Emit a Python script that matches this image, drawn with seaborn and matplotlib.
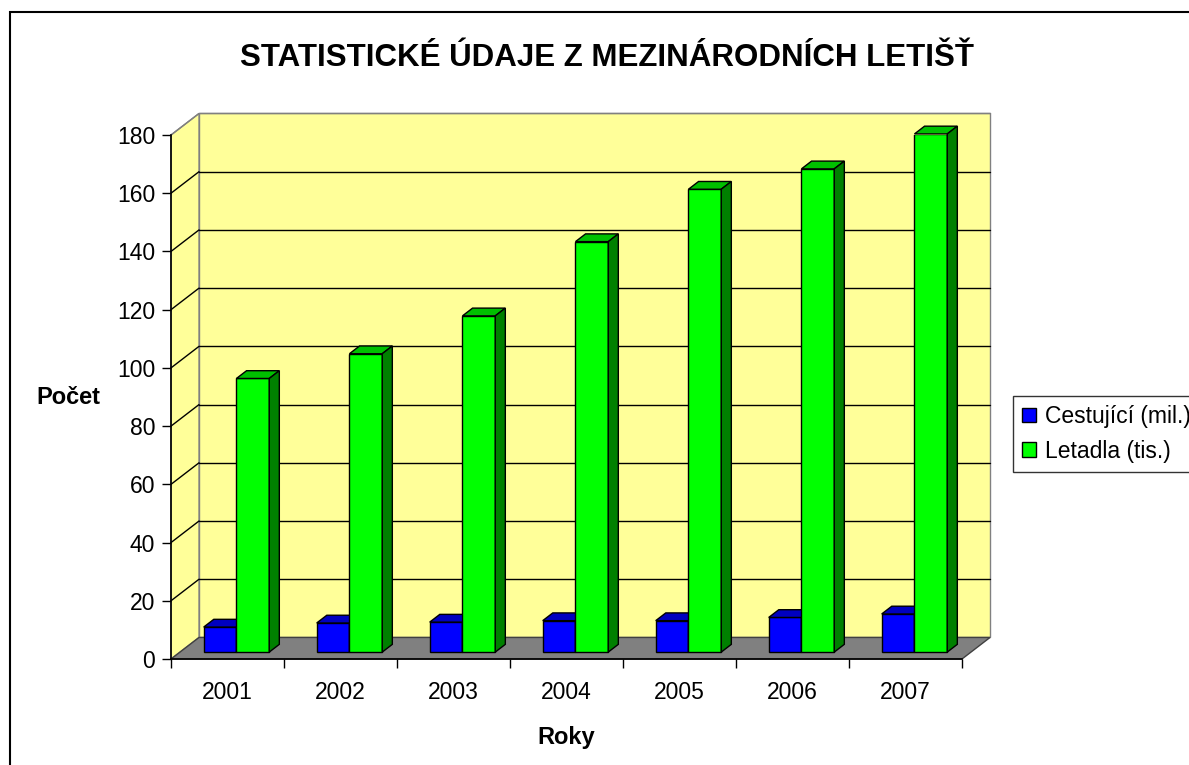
import matplotlib
matplotlib.use('Agg')
import matplotlib.pyplot as plt
import pandas as pd
import seaborn as sns
from matplotlib.patches import Polygon, Rectangle, Patch

sns.set_style('white')
plt.rcParams['font.family'] = ['Liberation Sans', 'DejaVu Sans']
for key in ['text.color', 'axes.labelcolor', 'xtick.color', 'ytick.color']:
    plt.rcParams[key] = 'black'

# data
roky = ['2001', '2002', '2003', '2004', '2005', '2006', '2007']
cestujici = [8.6, 10.0, 10.3, 10.8, 10.8, 11.9, 13.1]
letadla = [94, 102.5, 115.5, 141, 159, 166, 178]
serie = ['Cestující (mil.)', 'Letadla (tis.)']
barvy = ['#0000FF', '#00FF00']
barvy_horni = ['#0000C0', '#00C000']
barvy_bok = ['#000080', '#008000']

df = pd.DataFrame({
    'Roky': roky * 2,
    'Počet': cestujici + letadla,
    'Řada': [serie[0]] * len(roky) + [serie[1]] * len(roky),
})

W, H = 1189, 765
fig = plt.figure(figsize=(W / 100, H / 100), dpi=100)
# front plane of the 3D box: x 171..962, y 135..659 px
ax = fig.add_axes([171 / W, 1 - 659 / H, (962 - 171) / W, (659 - 135) / H])
ax.patch.set_visible(False)

ymax = 180
DX, DY = 0.248, 7.4  # depth of the box in data units

sns.barplot(data=df, x='Roky', y='Počet', hue='Řada', palette=barvy, saturation=1,
            width=0.58, edgecolor='black', linewidth=1, legend=False, ax=ax)
ax.set_xlim(-0.5, 6.5)
ax.set_ylim(0, ymax)

# walls and floor
x0, x1 = -0.5, 6.5
wall_kw = dict(closed=True, clip_on=False, lw=1)
ax.add_patch(Polygon([(x0 + DX, DY), (x1 + DX, DY), (x1 + DX, ymax + DY), (x0 + DX, ymax + DY)],
                     facecolor='#FFFF99', edgecolor='#808080', zorder=0.5, **wall_kw))
ax.add_patch(Polygon([(x0, 0), (x0 + DX, DY), (x0 + DX, ymax + DY), (x0, ymax)],
                     facecolor='#FFFF99', edgecolor='#808080', zorder=0.5, **wall_kw))
ax.add_patch(Polygon([(x0, 0), (x1, 0), (x1 + DX, DY), (x0 + DX, DY)],
                     facecolor='#808080', edgecolor='#404040', zorder=0.55, **wall_kw))

# gridlines on back wall + diagonals on side wall
for v in range(20, ymax + 1, 20):
    c = '#808080' if v == ymax else 'black'
    ax.plot([x0 + DX, x1 + DX], [v + DY, v + DY], color=c, lw=1, zorder=0.6, clip_on=False)
    ax.plot([x0, x0 + DX], [v, v + DY], color=c, lw=1, zorder=0.6, clip_on=False)

# 3D bars: move front face into the box and add top and side faces
FX, FY = 0.32 * DX, 0.32 * DY
BX, BY = 0.36 * DX, 0.36 * DY
for k, cont in enumerate(ax.containers):
    for p in cont.patches:
        bx, w, h = p.get_x(), p.get_width(), p.get_height()
        p.set_x(bx + FX)
        p.set_y(FY)
        p.set_zorder(2 + k)
        l, r, t = bx + FX, bx + FX + w, FY + h
        ax.add_patch(Polygon([(l, t), (r, t), (r + BX, t + BY), (l + BX, t + BY)], closed=True,
                             facecolor=barvy_horni[k], edgecolor='black', lw=1, zorder=2 + k, clip_on=False))
        ax.add_patch(Polygon([(r, FY), (r + BX, FY + BY), (r + BX, t + BY), (r, t)], closed=True,
                             facecolor=barvy_bok[k], edgecolor='black', lw=1, zorder=2 + k, clip_on=False))

# axes
for s in ['top', 'right']:
    ax.spines[s].set_visible(False)
for s in ['left', 'bottom']:
    ax.spines[s].set_color('black')
    ax.spines[s].set_linewidth(1.2)
ax.set_yticks(range(0, ymax + 1, 20))
ax.tick_params(axis='y', length=6.5, width=1, direction='out', pad=5, labelsize=16.5, left=True)
ax.set_xticks(range(len(roky)))
ax.set_xticklabels(roky)
ax.set_xticks([i - 0.5 for i in range(len(roky) + 1)], minor=True)
ax.tick_params(axis='x', which='major', length=0, pad=16, labelsize=16.5)
ax.tick_params(axis='x', which='minor', length=6.5, width=1, direction='out', bottom=True)

ax.set_xlabel('Roky', fontsize=17, fontweight='bold')
ax.set_ylabel('Počet', fontsize=17, fontweight='bold', rotation=0, ha='center', va='center')
ax.xaxis.set_label_coords(0.5, -0.128)
ax.yaxis.set_label_coords(-0.130, 0.5)

fig.text(607 / W, 1 - 58 / H, 'STATISTICKÉ ÚDAJE Z MEZINÁRODNÍCH LETIŠŤ',
         fontsize=22.5, fontweight='bold', ha='center', va='center')

# legend
handles = [Patch(facecolor=c, edgecolor='black') for c in barvy]
leg = fig.legend(handles, serie, loc='upper left', bbox_to_anchor=(1013 / W, 1 - 396 / H),
                 fontsize=16.5, frameon=True, fancybox=False, handlelength=0.6, handleheight=0.6,
                 handletextpad=0.4, borderpad=0.4, labelspacing=0.5, borderaxespad=0)
leg.get_frame().set_edgecolor('black')
leg.get_frame().set_linewidth(1)

# outer chart border
fig.patches.append(Rectangle((10 / W, -0.1), 1.2, 1 - 12 / H + 0.1, transform=fig.transFigure,
                             fill=False, edgecolor='black', lw=1.5))

fig.savefig('out.png', dpi=100)
